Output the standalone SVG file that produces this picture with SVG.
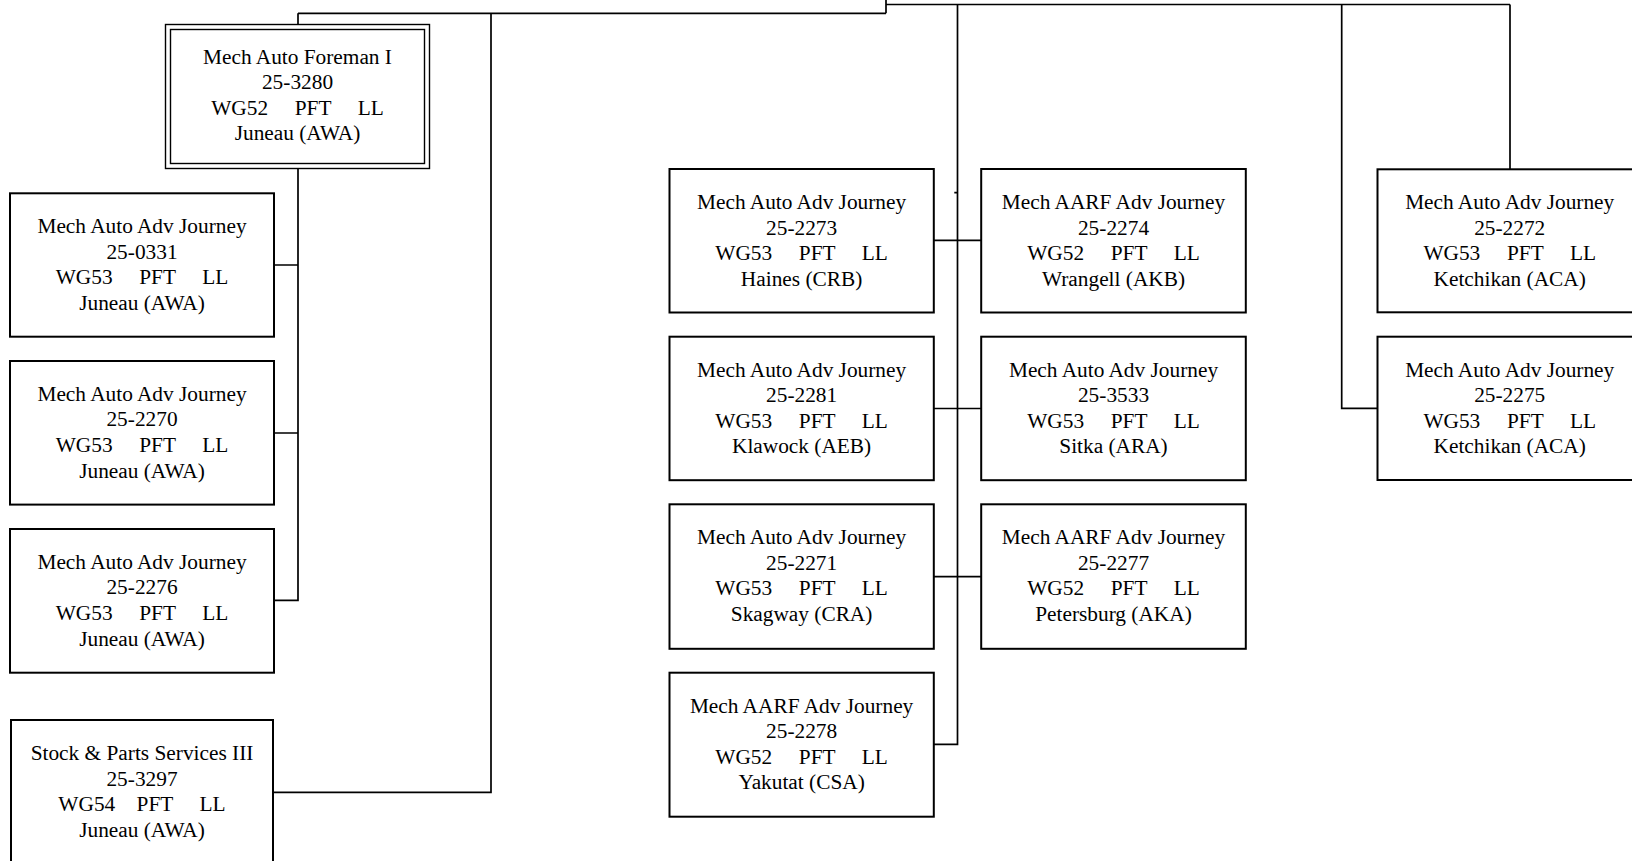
<svg xmlns="http://www.w3.org/2000/svg" width="1632" height="861" viewBox="0 0 1632 861">
<style>
.box{fill:#fff;stroke:#000;stroke-width:2}
.dbl{fill:none;stroke:#000;stroke-width:1.4}
.conn{fill:none;stroke:#000;stroke-width:1.7}
text{font-family:"Liberation Serif","Times New Roman",serif;font-size:21.33px;fill:#000;text-anchor:middle}
</style>
<rect width="1632" height="861" fill="#fff"/>
<g id="connectors">
<path class="conn" d="M886 0 V13.3 M886 4.5 H1510 M298 13.3 H886 M298 13.3 V24.5 M491 13.3 V792.3 H273"/>
<path class="conn" d="M298 168.5 V600.3 H274 M298 265 H274 M298 433 H274"/>
<path class="conn" d="M957.5 4.5 V744.3 H933.8 M933.8 240.4 H981.2 M933.8 408.5 H981.2 M933.8 576.7 H981.2 M954.3 192.7 H957.5"/>
<path class="conn" d="M1341.7 4.5 V408.3 H1377.5 M1510 4.5 V169.3"/>
</g>
<g id="n-foreman">
<rect class="dbl" x="165.5" y="24.5" width="264" height="144"/>
<rect class="dbl" x="170.5" y="29.5" width="254" height="134"/>
<text x="297.5" y="63.5">Mech Auto Foreman I</text>
<text x="297.5" y="89.1">25-3280</text>
<text x="297.5" y="114.7" xml:space="preserve">WG52     PFT     LL</text>
<text x="297.5" y="140.3">Juneau (AWA)</text>
</g>
<g id="n-0331">
<rect class="box" x="10" y="193.3" width="264" height="143.4"/>
<text x="142" y="233">Mech Auto Adv Journey</text>
<text x="142" y="258.6">25-0331</text>
<text x="142" y="284.2" xml:space="preserve">WG53     PFT     LL</text>
<text x="142" y="309.8">Juneau (AWA)</text>
</g>
<g id="n-2270">
<rect class="box" x="10" y="361" width="264" height="143.6"/>
<text x="142" y="400.7">Mech Auto Adv Journey</text>
<text x="142" y="426.3">25-2270</text>
<text x="142" y="451.9" xml:space="preserve">WG53     PFT     LL</text>
<text x="142" y="477.5">Juneau (AWA)</text>
</g>
<g id="n-2276">
<rect class="box" x="10" y="529" width="264" height="143.7"/>
<text x="142" y="568.7">Mech Auto Adv Journey</text>
<text x="142" y="594.3">25-2276</text>
<text x="142" y="619.9" xml:space="preserve">WG53     PFT     LL</text>
<text x="142" y="645.5">Juneau (AWA)</text>
</g>
<g id="n-3297">
<rect class="box" x="11" y="720" width="262" height="145"/>
<text x="142" y="760">Stock &amp; Parts Services III</text>
<text x="142" y="785.6">25-3297</text>
<text x="142" y="811.2" xml:space="preserve">WG54    PFT     LL</text>
<text x="142" y="836.8">Juneau (AWA)</text>
</g>
<g id="n-2273">
<rect class="box" x="669.5" y="169" width="264.3" height="143.5"/>
<text x="801.6" y="208.9">Mech Auto Adv Journey</text>
<text x="801.6" y="234.5">25-2273</text>
<text x="801.6" y="260.1" xml:space="preserve">WG53     PFT     LL</text>
<text x="801.6" y="285.7">Haines (CRB)</text>
</g>
<g id="n-2281">
<rect class="box" x="669.5" y="336.7" width="264.3" height="143.5"/>
<text x="801.6" y="376.6">Mech Auto Adv Journey</text>
<text x="801.6" y="402.2">25-2281</text>
<text x="801.6" y="427.8" xml:space="preserve">WG53     PFT     LL</text>
<text x="801.6" y="453.4">Klawock (AEB)</text>
</g>
<g id="n-2271">
<rect class="box" x="669.5" y="504.3" width="264.3" height="144.5"/>
<text x="801.6" y="544.2">Mech Auto Adv Journey</text>
<text x="801.6" y="569.8">25-2271</text>
<text x="801.6" y="595.4" xml:space="preserve">WG53     PFT     LL</text>
<text x="801.6" y="621">Skagway (CRA)</text>
</g>
<g id="n-2278">
<rect class="box" x="669.5" y="672.7" width="264.3" height="144"/>
<text x="801.6" y="712.6">Mech AARF Adv Journey</text>
<text x="801.6" y="738.2">25-2278</text>
<text x="801.6" y="763.8" xml:space="preserve">WG52     PFT     LL</text>
<text x="801.6" y="789.4">Yakutat (CSA)</text>
</g>
<g id="n-2274">
<rect class="box" x="981.2" y="169" width="264.6" height="143.5"/>
<text x="1113.5" y="208.9">Mech AARF Adv Journey</text>
<text x="1113.5" y="234.5">25-2274</text>
<text x="1113.5" y="260.1" xml:space="preserve">WG52     PFT     LL</text>
<text x="1113.5" y="285.7">Wrangell (AKB)</text>
</g>
<g id="n-3533">
<rect class="box" x="981.2" y="336.7" width="264.6" height="143.5"/>
<text x="1113.5" y="376.6">Mech Auto Adv Journey</text>
<text x="1113.5" y="402.2">25-3533</text>
<text x="1113.5" y="427.8" xml:space="preserve">WG53     PFT     LL</text>
<text x="1113.5" y="453.4">Sitka (ARA)</text>
</g>
<g id="n-2277">
<rect class="box" x="981.2" y="504.3" width="264.6" height="144.5"/>
<text x="1113.5" y="544.2">Mech AARF Adv Journey</text>
<text x="1113.5" y="569.8">25-2277</text>
<text x="1113.5" y="595.4" xml:space="preserve">WG52     PFT     LL</text>
<text x="1113.5" y="621">Petersburg (AKA)</text>
</g>
<g id="n-2272">
<rect class="box" x="1377.5" y="169.3" width="264.5" height="143"/>
<text x="1509.7" y="209.2">Mech Auto Adv Journey</text>
<text x="1509.7" y="234.8">25-2272</text>
<text x="1509.7" y="260.4" xml:space="preserve">WG53     PFT     LL</text>
<text x="1509.7" y="286">Ketchikan (ACA)</text>
</g>
<g id="n-2275">
<rect class="box" x="1377.5" y="336.7" width="264.5" height="143.3"/>
<text x="1509.7" y="376.6">Mech Auto Adv Journey</text>
<text x="1509.7" y="402.2">25-2275</text>
<text x="1509.7" y="427.8" xml:space="preserve">WG53     PFT     LL</text>
<text x="1509.7" y="453.4">Ketchikan (ACA)</text>
</g>
</svg>
